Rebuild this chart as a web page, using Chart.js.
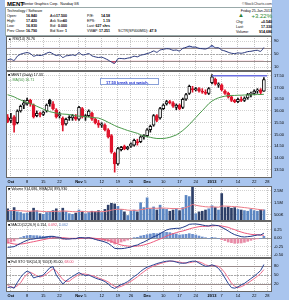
<!DOCTYPE html>
<html>
<head>
<meta charset="utf-8">
<script src="https://cdn.jsdelivr.net/npm/chart.js@4.4.1/dist/chart.umd.min.js"></script>
<style>
  body { margin: 0; width: 289px; height: 300px; background: #a9c5ee; position: relative; overflow: hidden;
         font-family: "Liberation Sans", Arial, sans-serif; }
  canvas { position: absolute; left: 0; }
  .t { position: absolute; font-size: 3.6px; line-height: 4px; white-space: nowrap; color: #000; }
  .r { text-align: right; }
  #head { position: absolute; left: 5px; top: 0; width: 267px; height: 35px; background: #fff; }
  #box { position: absolute; left: 5px; top: 7px; width: 265px; height: 27px; border: 1px solid #9aa; }
  #note { position: absolute; left: 100px; top: 78px; width: 59px; height: 7px; background: #fff;
          border: 1px solid #8aa0d8; font-size: 4px; line-height: 7px; color: #1a2bd0; font-weight: bold; padding-left: 5px; box-sizing: border-box; }
</style>
</head>
<body>
<div id="head"></div>
<div id="box"></div>
<div class="t" style="left:7px;top:1px;font-size:6px;line-height:6px;font-weight:bold">MENT</div>
<div class="t" style="left:22px;top:2px">Mentor Graphics Corp.&nbsp;&nbsp;Nasdaq GS</div>
<div class="t" style="left:242px;top:1.5px;color:#333">©StockCharts.com</div>
<div class="t" style="left:7px;top:8.5px">Technology / Software</div>

<div class="t" style="left:7px;top:13.5px">Open:</div><div class="t r" style="left:17px;width:20px;top:13.5px;font-weight:bold">16.840</div>
<div class="t" style="left:7px;top:18.5px">High:</div><div class="t r" style="left:17px;width:20px;top:18.5px;font-weight:bold">17.420</div>
<div class="t" style="left:7px;top:23.5px">Low:</div><div class="t r" style="left:17px;width:20px;top:23.5px;font-weight:bold">16.830</div>
<div class="t" style="left:7px;top:28.5px">Prev Close:</div><div class="t r" style="left:17px;width:20px;top:28.5px;font-weight:bold">16.790</div>

<div class="t" style="left:50px;top:13.5px">Ask:</div><div class="t r" style="left:47px;width:20px;top:13.5px;font-weight:bold">17.500</div>
<div class="t" style="left:50px;top:18.5px">Ask Size:</div><div class="t r" style="left:47px;width:20px;top:18.5px;font-weight:bold">60</div>
<div class="t" style="left:50px;top:23.5px">Bid:</div><div class="t r" style="left:47px;width:20px;top:23.5px;font-weight:bold">0.000</div>
<div class="t" style="left:50px;top:28.5px">Bid Size:</div><div class="t r" style="left:47px;width:20px;top:28.5px;font-weight:bold">1</div>

<div class="t" style="left:87px;top:13.5px">P/E:</div><div class="t r" style="left:85px;width:25px;top:13.5px;font-weight:bold">14.58</div>
<div class="t" style="left:87px;top:18.5px">EPS:</div><div class="t r" style="left:85px;width:25px;top:18.5px;font-weight:bold">1.19</div>
<div class="t" style="left:87px;top:23.5px">Last:</div><div class="t r" style="left:85px;width:25px;top:23.5px;font-weight:bold">627 shrs</div>
<div class="t" style="left:87px;top:28.5px">VWAP:</div><div class="t r" style="left:85px;width:25px;top:28.5px;font-weight:bold">17.251</div>
<div class="t" style="left:118px;top:28.5px">SCTR(SP400MID): <b>47.9</b></div>

<div class="t r" style="left:222px;width:50px;top:8.5px">Friday 25-Jan-2013</div>
<div class="t" style="left:238px;top:12px;font-size:6px;line-height:6px;color:#2e7d32">▲</div>
<div class="t r" style="left:242px;width:30px;top:12.5px;font-size:6px;line-height:6px;color:#2e8b2e">+3.22%</div>
<div class="t" style="left:236px;top:19.5px">Chg:</div><div class="t r" style="left:247px;width:25px;top:19.5px;font-weight:bold">+0.540</div>
<div class="t" style="left:236px;top:24.5px">Last:</div><div class="t r" style="left:247px;width:25px;top:24.5px;font-weight:bold">17.330</div>
<div class="t" style="left:236px;top:29.5px">Volume:</div><div class="t r" style="left:247px;width:25px;top:29.5px;font-weight:bold">914,686</div>

<canvas id="rsiChart" width="289" height="35" style="top:36px"></canvas>
<canvas id="priceChart" width="289" height="115" style="top:71px"></canvas>
<canvas id="volChart" width="289" height="35" style="top:186px"></canvas>
<canvas id="macdChart" width="289" height="37" style="top:221px"></canvas>
<canvas id="stoChart" width="289" height="42" style="top:258px"></canvas>

<div class="t" style="left:8px;top:37px">▲ RSI(14) 70.76</div>
<div class="t" style="left:8px;top:73px">■ MENT (Daily) 17.33</div>
<div class="t" style="left:8px;top:77.5px;color:#3d8f3d">— MA(50) 16.71</div>
<div id="note">17.50 break out watch.</div>
<div class="t" style="left:8px;top:187px">■ Volume 914,686, EMA(20) 895,930</div>
<div class="t" style="left:8px;top:222.5px">■ MACD(12,26,9) 0.154, <span style="color:#e0406a">0.092</span>, <span style="color:#5a7fc0">0.062</span></div>
<div class="t" style="left:8px;top:259.5px">■ Full STO %K(14,3) %D(3) 85.00, <span style="color:#e0406a">68.00</span></div>

<script>
// trading days shown (last two slots are empty space on the right)
const dates = ['2012-09-28','2012-10-01','2012-10-02','2012-10-03','2012-10-04','2012-10-05','2012-10-08','2012-10-09','2012-10-10','2012-10-11','2012-10-12','2012-10-15','2012-10-16','2012-10-17','2012-10-18','2012-10-19','2012-10-22','2012-10-23','2012-10-24','2012-10-25','2012-10-26','2012-10-31','2012-11-01','2012-11-02','2012-11-05','2012-11-06','2012-11-07','2012-11-08','2012-11-09','2012-11-12','2012-11-13','2012-11-14','2012-11-15','2012-11-16','2012-11-19','2012-11-20','2012-11-21','2012-11-23','2012-11-26','2012-11-27','2012-11-28','2012-11-29','2012-11-30','2012-12-03','2012-12-04','2012-12-05','2012-12-06','2012-12-07','2012-12-10','2012-12-11','2012-12-12','2012-12-13','2012-12-14','2012-12-17','2012-12-18','2012-12-19','2012-12-20','2012-12-21','2012-12-24','2012-12-26','2012-12-27','2012-12-28','2012-12-31','2013-01-02','2013-01-03','2013-01-04','2013-01-07','2013-01-08','2013-01-09','2013-01-10','2013-01-11','2013-01-14','2013-01-15','2013-01-16','2013-01-17','2013-01-18','2013-01-22','2013-01-23','2013-01-24','2013-01-25','2013-01-28','2013-01-29'];

const tickDates = ['2012-10-01','2012-10-08','2012-10-15','2012-10-22','2012-11-01','2012-11-05','2012-11-12','2012-11-19','2012-11-26','2012-12-03','2012-12-10','2012-12-17','2012-12-24','2013-01-02','2013-01-07','2013-01-14','2013-01-22','2013-01-28'];
const tickTexts = ['Oct','8','15','22','Nov','5','12','19','26','Dec','10','17','24','2013','7','14','22','28'];
const boldTicks = ['Oct','Nov','Dec','2013'];

const opens = [15.75,15.6,15.75,15.5,16.0,16.25,16.3,16.45,16.25,15.8, 15.9,15.85,16.0,16.45,16.3,16.05,15.8,15.7,15.45,15.7,
  15.7,15.75,15.65,16.1,15.75,15.8,15.9,15.65,15.5,15.4, 15.4,15.2,14.95,14.2,13.75,14.35,14.5,14.4,14.5,14.55,
  14.7,14.7,14.9,14.95,15.2,15.4,15.8,15.7,16.1,16.3, 16.4,16.35,16.15,16.25,16.15,16.5,16.75,16.95,16.9,16.95,
  16.85,16.8,16.75,17.2,17.35,17.1,17.1,16.85,16.75,16.6, 16.45,16.4,16.5,16.45,16.55,16.7,16.75,16.85,16.9,16.84];
const highs = [15.85,15.9,15.8,16.05,16.25,16.45,16.55,16.5,16.3,16.0, 15.95,16.0,16.3,16.5,16.4,16.1,15.95,15.75,15.7,15.8,
  15.85,15.85,16.2,16.15,15.85,16.05,15.95,15.7,15.6,15.5, 15.45,15.25,15.0,14.25,14.45,14.5,14.55,14.5,14.65,14.8,
  14.8,14.95,15.0,15.25,15.4,15.85,15.85,16.15,16.3,16.45, 16.45,16.4,16.3,16.3,16.55,16.75,17.1,17.05,17.0,17.0,
  16.95,16.9,17.0,17.55,17.4,17.2,17.15,16.9,16.8,16.65, 16.5,16.55,16.6,16.6,16.75,16.8,16.9,16.95,16.95,17.42];
const lows = [15.5,15.5,15.1,15.45,15.95,16.1,16.25,16.2,15.7,15.75, 15.75,15.8,15.95,16.2,16.05,15.7,15.7,15.15,15.4,15.6,
  15.6,15.6,15.6,15.7,15.6,15.75,15.6,15.45,15.3,15.3, 15.15,14.85,14.2,13.4,13.7,14.3,14.35,14.35,14.45,14.5,
  14.55,14.65,14.8,14.9,15.1,15.35,15.55,15.65,16.05,16.25, 16.3,16.15,16.05,16.05,16.1,16.45,16.7,16.8,16.85,16.8,
  16.75,16.7,16.7,17.15,17.1,17.0,16.85,16.7,16.55,16.4, 16.35,16.35,16.4,16.4,16.5,16.6,16.7,16.75,16.7,16.83];
const closes = [15.55,15.7,15.4,16.0,16.2,16.35,16.45,16.3,15.75,15.9, 15.85,15.95,16.25,16.3,16.1,15.75,15.85,15.4,15.65,15.7,
  15.8,15.65,16.15,15.75,15.8,16.0,15.65,15.5,15.4,15.45, 15.2,14.9,14.25,13.75,14.4,14.45,14.4,14.45,14.6,14.75,
  14.65,14.9,14.95,15.2,15.35,15.8,15.6,16.1,16.25,16.4, 16.35,16.2,16.25,16.1,16.5,16.7,17.05,16.9,16.95,16.85,
  16.8,16.75,16.95,17.45,17.15,17.15,16.9,16.75,16.6,16.45, 16.4,16.5,16.45,16.55,16.7,16.75,16.85,16.9,16.79,17.33];
const ma50 = [16.69,16.65,16.60,16.53,16.47,16.41,16.36,16.31,16.27,16.20, 16.14,16.08,16.02,15.97,15.94,15.91,15.89,15.87,15.86,15.85,
  15.83,15.80,15.78,15.77,15.75,15.74,15.73,15.71,15.70,15.65, 15.59,15.52,15.45,15.38,15.32,15.27,15.22,15.17,15.13,15.09,
  15.05,14.99,14.94,14.91,14.88,14.85,14.83,14.83,14.83,14.85, 14.88,14.93,14.98,15.07,15.17,15.29,15.42,15.57,15.72,15.87,
  16.01,16.16,16.31,16.42,16.50,16.56,16.60,16.63,16.65,16.66, 16.66,16.67,16.67,16.68,16.68,16.69,16.69,16.70,16.70,16.71];
const breakoutLevel = 17.5;
const breakoutFrom = '2013-01-02';
const breakoutTo = '2013-01-28';

const rsi14 = [33,35,31,44,50,53,55,52,44,47, 46,48,53,56,51,46,48,40,45,46,
  48,46,55,48,49,52,45,42,40,41, 37,32,26,22,36,37,36,38,40,44,
  42,47,49,52,55,60,56,63,65,67, 66,62,63,60,68,71,75,72,72,68,
  67,66,70,77,70,70,63,60,56,53, 52,54,53,55,58,59,61,62,59,70.76];

// volume in millions of shares
const volumeM = [1.0,0.85,1.1,0.75,0.7,0.6,0.65,0.75,1.05,0.85, 0.6,0.55,0.7,0.75,0.85,1.0,0.7,1.05,0.75,0.6,
  0.55,0.65,0.9,0.8,0.6,0.7,0.8,0.75,0.85,0.7, 0.95,1.3,1.45,1.4,1.2,0.95,0.75,0.45,0.8,0.9,
  0.75,1.5,1.1,1.9,1.0,1.15,0.9,1.3,1.0,0.95, 0.8,0.9,1.0,0.85,1.1,2.1,2.0,2.8,0.6,0.75,
  0.8,0.9,1.0,1.25,1.1,0.9,2.25,1.1,1.15,1.05, 1.1,0.95,0.9,0.85,0.8,0.95,0.85,0.8,0.9,0.915];
const volumeEma = [0.85,0.85,0.87,0.86,0.84,0.82,0.80,0.80,0.82,0.82, 0.80,0.78,0.77,0.77,0.78,0.80,0.79,0.82,0.81,0.79,
  0.77,0.76,0.78,0.78,0.76,0.76,0.76,0.76,0.77,0.77, 0.78,0.83,0.89,0.94,0.96,0.96,0.94,0.89,0.88,0.88,
  0.87,0.93,0.95,1.04,1.04,1.05,1.04,1.06,1.06,1.05, 1.03,1.02,1.02,1.00,1.01,1.12,1.21,1.36,1.29,1.24,
  1.20,1.17,1.15,1.16,1.15,1.13,1.23,1.22,1.21,1.19, 1.18,1.16,1.13,1.10,1.07,1.03,1.00,0.96,0.93,0.896];

const macdLine = [-0.27,-0.26,-0.25,-0.20,-0.15,-0.10,-0.06,-0.03,-0.02,0.00, 0.01,0.02,0.04,0.06,0.06,0.04,0.03,-0.01,-0.02,-0.02,
  -0.01,-0.01,0.02,0.02,0.01,0.02,0.00,-0.03,-0.06,-0.08, -0.11,-0.15,-0.22,-0.30,-0.31,-0.31,-0.30,-0.28,-0.26,-0.22,
  -0.20,-0.15,-0.11,-0.06,-0.01,0.05,0.08,0.14,0.20,0.25, 0.28,0.29,0.30,0.30,0.33,0.37,0.42,0.43,0.43,0.42,
  0.40,0.38,0.37,0.40,0.39,0.38,0.33,0.28,0.22,0.16, 0.11,0.08,0.05,0.04,0.05,0.06,0.08,0.10,0.10,0.154];
const macdSignal = [-0.12,-0.15,-0.17,-0.18,-0.17,-0.16,-0.14,-0.12,-0.10,-0.08, -0.06,-0.04,-0.02,0.00,0.01,0.02,0.02,0.02,0.01,0.00,
  0.00,0.00,0.00,0.00,0.01,0.01,0.01,0.00,-0.01,-0.02, -0.04,-0.06,-0.09,-0.13,-0.17,-0.20,-0.22,-0.23,-0.24,-0.24,
  -0.23,-0.22,-0.20,-0.17,-0.14,-0.10,-0.06,-0.02,0.02,0.07, 0.11,0.14,0.17,0.20,0.22,0.25,0.28,0.31,0.33,0.35,
  0.36,0.36,0.37,0.37,0.38,0.38,0.37,0.35,0.33,0.29, 0.26,0.22,0.19,0.16,0.14,0.12,0.11,0.11,0.10,0.092];
const macdHist = [-0.15,-0.11,-0.08,-0.02,0.02,0.06,0.08,0.09,0.08,0.08, 0.07,0.06,0.06,0.06,0.05,0.02,0.01,-0.03,-0.03,-0.02,
  -0.01,-0.01,0.02,0.02,0.00,0.01,-0.01,-0.03,-0.05,-0.06, -0.07,-0.09,-0.13,-0.17,-0.14,-0.11,-0.08,-0.05,-0.02,0.02,
  0.03,0.07,0.09,0.11,0.13,0.15,0.14,0.16,0.18,0.18, 0.17,0.15,0.13,0.10,0.11,0.12,0.14,0.12,0.10,0.07,
  0.04,0.02,0.00,0.03,0.01,0.00,-0.04,-0.07,-0.11,-0.13, -0.15,-0.14,-0.14,-0.12,-0.09,-0.06,-0.03,-0.01,0.00,0.062];

const stoK = [8,10,6,25,42,55,63,58,40,44, 46,50,62,74,78,50,35,20,30,38,
  45,52,58,52,48,50,45,40,36,33, 28,20,10,5,12,18,22,28,36,45,
  52,62,70,76,80,84,88,91,94,96, 97,96,93,90,89,90,94,96,96,90,
  84,79,80,84,80,72,58,40,22,8, 6,10,17,22,30,38,46,55,65,85];
const stoD = [15,11,8,14,24,41,53,59,54,47, 43,47,53,62,71,64,49,35,29,29,
  38,45,52,54,53,50,48,45,40,36, 32,27,19,12,9,12,17,23,29,36,
  44,53,61,69,75,80,84,88,91,94, 96,96,95,93,91,90,91,93,95,94,
  90,84,81,81,81,79,70,57,40,23, 12,8,11,16,23,30,38,46,55,68];

const priceTicks = [13.5,13.75,14,14.25,14.5,14.75,15,15.25,15.5,15.75,16,16.25,16.5,16.75,17,17.25,17.5];
const rsiTicks = [10,30,50,70,90];
const volTicks = [0.5,1,1.5,2,2.5];
const macdTicks = [-0.5,-0.25,0,0.25];
const stoTicks = [20,50,80];

Chart.defaults.font.family = '"Liberation Sans", Arial, sans-serif';
Chart.defaults.font.size = 4;
Chart.defaults.color = '#000';

const tickText = i => {
  const k = tickDates.indexOf(dates[i]);
  return k < 0 ? '' : tickTexts[k];
};

const panel = {
  id: 'panel',
  beforeDraw(chart) {
    const { ctx, chartArea: a } = chart;
    ctx.save();
    ctx.fillStyle = '#fff';
    ctx.fillRect(a.left, a.top, a.width, a.height);
    ctx.restore();
  },
  beforeDatasetsDraw(chart, args, opts) {
    const { ctx, chartArea: a, scales } = chart;
    (opts.lines || []).forEach(l => {
      const y = Math.round(scales.y.getPixelForValue(l.value)) + 0.5;
      ctx.save();
      ctx.strokeStyle = l.color;
      ctx.lineWidth = 1;
      ctx.setLineDash(l.dash || []);
      ctx.beginPath();
      ctx.moveTo(a.left, y);
      ctx.lineTo(a.right, y);
      ctx.stroke();
      ctx.restore();
    });
  },
  afterDraw(chart) {
    const { ctx, chartArea: a } = chart;
    ctx.save();
    ctx.strokeStyle = '#666';
    ctx.lineWidth = 1;
    ctx.strokeRect(a.left + 0.5, a.top + 0.5, a.width - 1, a.height - 1);
    ctx.restore();
  }
};

function xAxis(showLabels) {
  return {
    type: 'category',
    offset: true,
    grid: { offset: false, drawTicks: false, color: c => tickText(c.index) ? '#c4c4c4' : 'rgba(0,0,0,0)' },
    border: { display: false, dash: [1, 1] },
    ticks: {
      display: showLabels, autoSkip: false, maxRotation: 0, padding: 1.5, color: '#000',
      font: c => ({ size: 4, weight: boldTicks.includes(tickText(c.index)) ? 'bold' : 'normal' }),
      callback: (v, i) => tickText(i)
    },
    afterFit: s => { s.height = showLabels ? (s.chart.height - 108 > 7 ? 7 : 8) : 0; s.paddingLeft = 0; s.paddingRight = 0; }
  };
}

function yAxis(min, max, ticks, fmt) {
  return {
    position: 'right', min, max,
    afterBuildTicks: s => { s.ticks = ticks.map(v => ({ value: v })); },
    grid: { color: '#d2d2d2', drawTicks: false },
    border: { display: false, dash: [1, 1] },
    ticks: { color: '#000', padding: 2, font: { size: 4 }, callback: fmt },
    afterFit: s => { s.width = 17; s.paddingTop = 0; s.paddingBottom = 0; }
  };
}

const baseOptions = (x, y, lines) => ({
  responsive: false,
  animation: false,
  devicePixelRatio: 1,
  layout: { padding: { left: 6, right: 0, top: 0, bottom: 0 } },
  plugins: { legend: { display: false }, tooltip: { enabled: false }, panel: { lines } },
  scales: { x, y }
});

const lineSet = (data, color, width, order) => ({
  type: 'line', data, borderColor: color, borderWidth: width, pointRadius: 0, tension: 0, fill: false, order
});

// candle colours: black when close is up from the prior close, red when down; hollow when close > open
const candleColor = closes.map((c, i) => c >= (i ? closes[i - 1] : opens[i]) ? '#111' : '#e0142c');
const candleFill = closes.map((c, i) => c > opens[i] ? '#fff' : candleColor[i]);

// RSI
new Chart(document.getElementById('rsiChart'), {
  type: 'line',
  data: {
    labels: dates,
    datasets: [
      { data: rsi14, borderColor: '#27357a', borderWidth: 1, pointRadius: 0, tension: 0.3,
        fill: { target: { value: 70 }, above: 'rgba(60,90,200,0.55)', below: 'rgba(0,0,0,0)' } },
      { data: rsi14, borderWidth: 0, pointRadius: 0, tension: 0.3,
        fill: { target: { value: 30 }, above: 'rgba(0,0,0,0)', below: 'rgba(220,40,80,0.6)' } }
    ]
  },
  options: baseOptions(xAxis(false), yAxis(-1.5, 106, rsiTicks, v => String(v)),
    [{ value: 70, color: '#9a8c8c' }, { value: 30, color: '#9a8c8c' }, { value: 50, color: '#a8a8a8', dash: [2, 1] }]),
  plugins: [panel]
});

// price
new Chart(document.getElementById('priceChart'), {
  type: 'bar',
  data: {
    labels: dates,
    datasets: [
      { type: 'bar', data: lows.map((l, i) => [l, highs[i]]), backgroundColor: candleColor,
        barThickness: 1, grouped: false, order: 4 },
      { type: 'bar', data: opens.map((o, i) => [o, closes[i]]), backgroundColor: candleFill, borderColor: candleColor,
        borderWidth: 1, borderSkipped: false, barThickness: 3, minBarLength: 1, grouped: false, order: 3 },
      lineSet(ma50, '#4c9a4c', 1, 2),
      lineSet(dates.map(d => d >= breakoutFrom && d <= breakoutTo ? breakoutLevel : null), '#6a6ee0', 1.5, 1)
    ]
  },
  options: baseOptions(xAxis(true), yAxis(13.15, 17.7, priceTicks, v => v.toFixed(2)), []),
  plugins: [panel]
});

// volume
new Chart(document.getElementById('volChart'), {
  type: 'bar',
  data: {
    labels: dates,
    datasets: [
      lineSet(volumeEma, '#ec7a86', 1, 1),
      { type: 'bar', data: volumeM, barThickness: 2, grouped: false, order: 2,
        backgroundColor: candleColor.map(c => c === '#111' ? '#5b86c2' : '#2d3f68') }
    ]
  },
  options: baseOptions(xAxis(false), yAxis(0, 2.87, volTicks, v => v < 1 ? (v * 1000) + 'K' : v.toFixed(1) + 'M'), []),
  plugins: [panel]
});

// MACD
new Chart(document.getElementById('macdChart'), {
  type: 'bar',
  data: {
    labels: dates,
    datasets: [
      lineSet(macdLine, '#1f3a8a', 1, 1),
      lineSet(macdSignal, '#ee5a7e', 1, 2),
      { type: 'bar', data: macdHist, barThickness: 2, grouped: false, order: 3,
        backgroundColor: macdHist.map(v => v >= 0 ? '#6c8fcc' : '#e88aa6') }
    ]
  },
  options: baseOptions(xAxis(false), yAxis(-0.59, 0.52, macdTicks, v => v.toFixed(2)),
    [{ value: 0, color: '#999' }]),
  plugins: [panel]
});

// full stochastics
new Chart(document.getElementById('stoChart'), {
  type: 'line',
  data: {
    labels: dates,
    datasets: [
      lineSet(stoK, '#2b4596', 1, 1),
      lineSet(stoD, '#f0708e', 1, 2)
    ]
  },
  options: baseOptions(xAxis(true), yAxis(-6.7, 106.7, stoTicks, v => String(v)),
    [{ value: 80, color: '#9a8c8c' }, { value: 20, color: '#9a8c8c' }, { value: 50, color: '#a8a8a8', dash: [2, 1] }]),
  plugins: [panel]
});
</script>
</body>
</html>
